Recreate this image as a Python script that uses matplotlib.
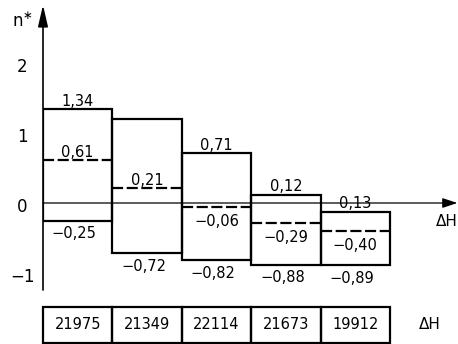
import matplotlib.pyplot as plt
from matplotlib.patches import Rectangle

# values per enthalpy bin
top_vals = [1.34, 1.20, 0.71, 0.12, -0.13]
top_labels = ["1,34", "", "0,71", "0,12", "0,13"]
mid_vals = [0.61, 0.21, -0.06, -0.29, -0.40]
bottom_vals = [-0.25, -0.72, -0.82, -0.88, -0.89]
dH_vals = [21975, 21349, 22114, 21673, 19912]
y_ticks = [2, 1, 0, -1]


def fmt(v):
    s = f"{abs(v):.2f}".replace(".", ",")
    return ("\u2212" if v < 0 else "") + s


W, H = 458, 344
px_bin = 69.4
px_unit = 70.0

fig = plt.figure(figsize=(W / 100, H / 100), dpi=100)
ax = fig.add_axes([43 / W, (H - 290) / H, 415 / W, 285 / H])
ax.set_xlim(0, 415 / px_bin)
ax.set_ylim(-87 / px_unit, 198 / px_unit)
ax.axis("off")

lw = 1.6
for i in range(len(top_vals)):
    lo, hi = bottom_vals[i], top_vals[i]
    ax.add_patch(Rectangle((i, lo), 1, hi - lo, fill=False, lw=lw,
                           ec="black", joinstyle="miter"))
    ax.plot([i, i + 1], [mid_vals[i], mid_vals[i]], color="black", lw=lw,
            linestyle=(0, (5, 1.6)), solid_capstyle="butt")

    lbl_kw = dict(textcoords="offset points", ha="center", fontsize=10.5)
    if top_labels[i]:
        ax.annotate(top_labels[i], (i + 0.5, top_vals[i]), xytext=(0, 0.5),
                    va="bottom", **lbl_kw)
    if mid_vals[i] >= 0:
        ax.annotate(fmt(mid_vals[i]), (i + 0.5, mid_vals[i]), xytext=(0, 0.5),
                    va="bottom", **lbl_kw)
    else:
        ax.annotate(fmt(mid_vals[i]), (i + 0.5, mid_vals[i]), xytext=(0, -5),
                    va="top", **lbl_kw)
    ax.annotate(fmt(bottom_vals[i]), (i + 0.45, bottom_vals[i]), xytext=(0, -4),
                va="top", **lbl_kw)

# axes with arrows
ymin, ymax = ax.get_ylim()
xmax = ax.get_xlim()[1]
ax.annotate("", xy=(0, ymax), xytext=(0, ymin),
            arrowprops=dict(arrowstyle="-|>,head_length=1.3,head_width=0.3",
                            color="black", lw=1.2, mutation_scale=10,
                            shrinkA=0, shrinkB=0))
ax.annotate("", xy=(xmax - 0.01, 0), xytext=(0, 0),
            arrowprops=dict(arrowstyle="-|>,head_length=0.9,head_width=0.3",
                            color="black", lw=0.9, mutation_scale=10,
                            shrinkA=0, shrinkB=0))

for t in y_ticks:
    ax.annotate(str(t).replace("-", "\u2212"), (-21 / px_bin, t),
                xytext=(0, -3), textcoords="offset points",
                ha="center", va="center", fontsize=12, annotation_clip=False)

ax.text(-21 / px_bin, 181 / px_unit, r"n$^{\ast}$", ha="center", va="center",
        fontsize=12, clip_on=False)
ax.text(5.82, -0.27, "\u0394H", ha="center", va="center", fontsize=11,
        clip_on=False)

# table of enthalpy values
tab = fig.add_axes([43 / W, 1.5 / H, 347 / W, 36 / H])
tab.set_xlim(0, len(dH_vals))
tab.set_ylim(0, 1)
tab.axis("off")
for i, v in enumerate(dH_vals):
    tab.add_patch(Rectangle((i, 0), 1, 1, fill=False, lw=lw, ec="black",
                            clip_on=False))
    tab.text(i + 0.5, 0.5, str(v), ha="center", va="center", fontsize=10.5)
tab.text(5.58, 0.5, "\u0394H", ha="center", va="center", fontsize=11,
         clip_on=False)

fig.savefig("out.png", dpi=100)
